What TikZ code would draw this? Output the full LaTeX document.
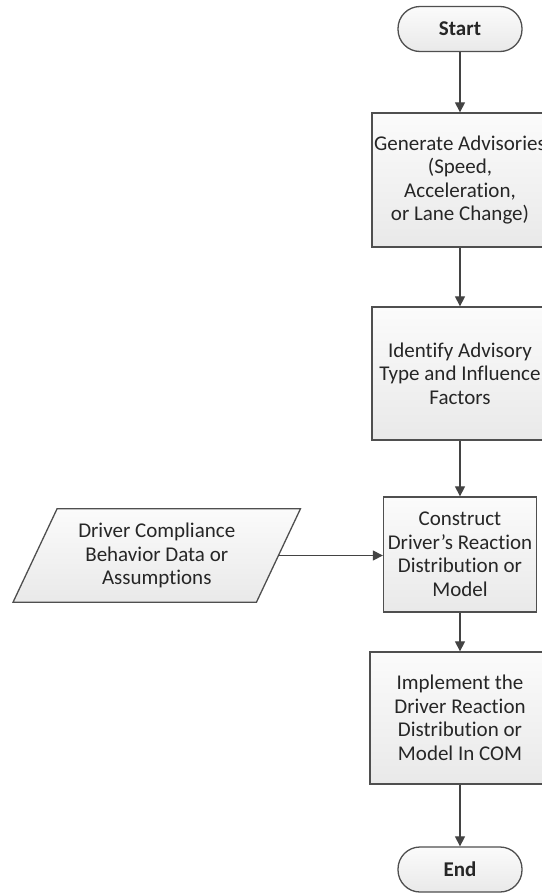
\documentclass[tikz,border=0pt]{standalone}
\usepackage{fontspec}
\setmainfont{Carlito}[Ligatures={NoCommon}]
\usetikzlibrary{arrows.meta,calc}
\definecolor{edge}{HTML}{4F4F4F}
\definecolor{ink}{HTML}{262626}
\definecolor{fillTop}{HTML}{FBFBFB}
\definecolor{fillBot}{HTML}{E9E9E9}
\begin{document}
\begin{tikzpicture}[x=1pt,y=-1pt,
  every node/.style={font=\fontsize{21}{23.5}\selectfont, text=ink, align=center},
  process/.style={draw=edge, line width=1.3pt, top color=fillTop, bottom color=fillBot,
    inner sep=0pt, shape=rectangle},
  terminal/.style={draw=edge, line width=1.3pt, top color=fillTop, bottom color=fillBot,
    inner sep=0pt, shape=rectangle, rounded corners=22pt,
    minimum width=124pt, minimum height=45pt, font=\fontsize{21}{23.5}\selectfont\bfseries},
  flow/.style={draw=edge!85!black, line width=1.2pt, -{Triangle[width=10pt,length=10pt]}}
]
\useasboundingbox (0,0) rectangle (541,894);

% main column
\node[terminal] (start) at (460,29) {Start};
\node[process, minimum width=176pt, minimum height=134pt] (gen) at (460,180)
  {Generate Advisories\\(Speed,\\Acceleration,\\or Lane Change)};
\node[process, minimum width=176pt, minimum height=133pt] (ident) at (460,373.5)
  {Identify Advisory\\Type and Influence\\Factors};
\node[process, minimum width=153pt, minimum height=115pt] (cons) at (460,554.5)
  {Construct\\Driver’s Reaction\\Distribution or\\Model};
\node[process, minimum width=180pt, minimum height=132pt] (impl) at (460,718)
  {Implement the\\Driver Reaction\\Distribution or\\Model In COM};
\node[terminal] (end) at (460,869.5) {End};

% input data (parallelogram drawn around its text node)
\node[minimum width=243pt, minimum height=93pt, inner sep=0pt] (data) at (156.75,555.5) {};
\path[draw=edge, line width=1.3pt, top color=fillTop, bottom color=fillBot]
  ([xshift=22pt]data.north west) -- ([xshift=22pt]data.north east)
  -- ([xshift=-22pt]data.south east) -- ([xshift=-22pt]data.south west) -- cycle;
\node (datatext) at (data.center) {Driver Compliance\\Behavior Data or\\Assumptions};

% connectors
\draw[flow] (start) -- (gen);
\draw[flow] (gen) -- (ident);
\draw[flow] (ident) -- (cons);
\draw[flow] (cons) -- (impl);
\draw[flow] (impl) -- (end);
\draw[flow] (data.east) -- (data.east -| cons.west);
\end{tikzpicture}
\end{document}
